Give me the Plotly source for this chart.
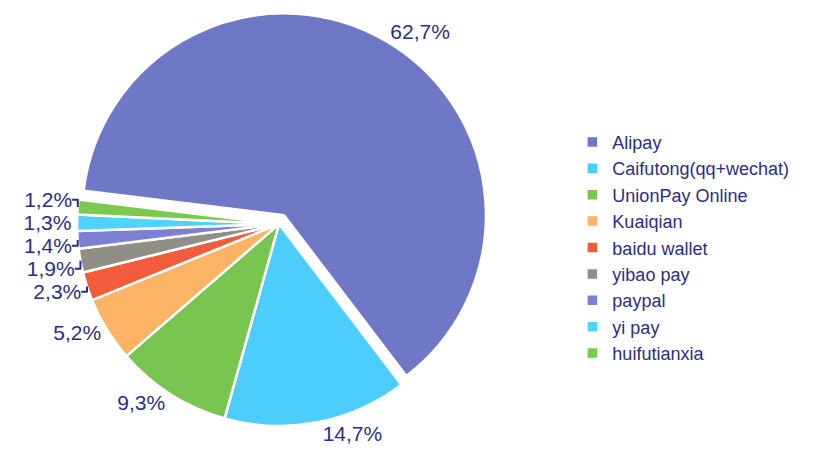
import plotly.graph_objects as go

labels = ["Alipay", "Caifutong(qq+wechat)", "UnionPay Online", "Kuaiqian",
          "baidu wallet", "yibao pay", "paypal", "yi pay", "huifutianxia"]
values = [62.7, 14.7, 9.3, 5.2, 2.3, 1.9, 1.4, 1.3, 1.2]
colors = ["#6f78c6", "#4dcdfb", "#78c650", "#fbb465", "#f25c3c",
          "#8f8f88", "#7c80d2", "#4fd3fb", "#7bc94e"]
pulls = [0.05, 0, 0, 0, 0, 0, 0, 0, 0]

text_labels = [f"{v:.1f}".replace(".", ",") + "%" for v in values]
navy = "#2b2e86"
font_family = "Liberation Sans, Arial, Helvetica, sans-serif"

fig = go.Figure(go.Pie(
    labels=labels,
    values=values,
    text=text_labels,
    textinfo="text",
    textposition="outside",
    sort=False,
    direction="clockwise",
    rotation=277,
    pull=pulls,
    automargin=False,
    marker=dict(colors=colors, line=dict(color="white", width=2.5)),
    outsidetextfont=dict(family=font_family, size=21, color=navy),
    domain=dict(x=[0.0817, 0.5988], y=[0.0583, 0.9741]),
    hoverinfo="label+percent",
))

fig.update_layout(
    width=820, height=463,
    margin=dict(l=0, r=0, t=0, b=0, autoexpand=False),
    paper_bgcolor="white",
    plot_bgcolor="white",
    showlegend=True,
    legend=dict(
        x=0.698, y=0.465, xanchor="left", yanchor="middle",
        font=dict(family=font_family, size=18, color=navy),
        bgcolor="rgba(0,0,0,0)",
        traceorder="normal",
    ),
)

fig.write_html("out.html")
